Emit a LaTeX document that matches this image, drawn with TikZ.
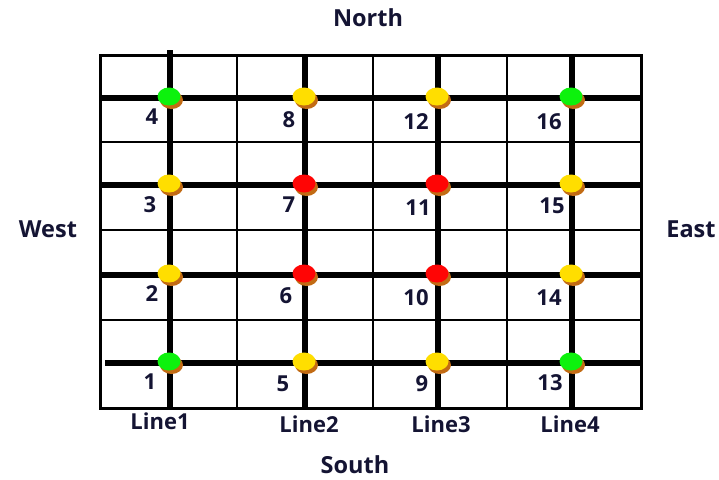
\documentclass[tikz,border=0pt]{standalone}
\usepackage{fontspec}
\setmainfont{Open Sans}
\usetikzlibrary{shapes.geometric,shadows}
\definecolor{txt}{rgb}{0.08,0.08,0.2}
\definecolor{shbrown}{rgb}{0.76,0.42,0.08}
\definecolor{dgreen}{rgb}{0.05,0.95,0.05}
\definecolor{dyellow}{rgb}{1,0.87,0}
\definecolor{dred}{rgb}{1,0.02,0.02}
\begin{document}
\begin{tikzpicture}[x=1pt,y=-1pt,
  thinline/.style={line width=1.6pt},
  thickline/.style={line width=5.5pt},
  border/.style={line width=3pt},
  lamp/.style={ellipse, fill=#1, minimum width=23pt, minimum height=18pt, inner sep=0pt,
    drop shadow={shadow xshift=2.5pt, shadow yshift=-3.5pt, fill=shbrown, opacity=1}},
  num/.style={font=\bfseries\fontsize{22}{22}\selectfont, text=txt, inner sep=0pt},
  linelab/.style={font=\bfseries\fontsize{22}{22}\selectfont, text=txt, inner sep=0pt},
  dir/.style={font=\bfseries\fontsize{23.5}{23.5}\selectfont, text=txt, inner sep=0pt}]
\useasboundingbox (0,0) rectangle (719,479);
% thin grid lines
\foreach \x in {237,373,507} \draw[thinline] (\x,55) -- (\x,408);
\foreach \y in {142,230,320} \draw[thinline] (100,\y) -- (641,\y);
% thick lines
\draw[thickline] (170,50) -- (170,408);
\foreach \x in {305,438,572} \draw[thickline] (\x,55) -- (\x,408);
\foreach \y in {98,185,275} \draw[thickline] (100,\y) -- (641,\y);
\draw[thickline] (105,363) -- (641,363);
% border
\draw[border] (100,55) rectangle (641,408);
% lamps
\node[lamp=dgreen]  (d4)  at (169,96.5) {};
\node[lamp=dyellow] (d8)  at (304,96.5) {};
\node[lamp=dyellow] (d12) at (437,96.5) {};
\node[lamp=dgreen]  (d16) at (571,96.5) {};
\node[lamp=dyellow] (d3)  at (169,183.5) {};
\node[lamp=dred]    (d7)  at (304,183.5) {};
\node[lamp=dred]    (d11) at (437,183.5) {};
\node[lamp=dyellow] (d15) at (571,183.5) {};
\node[lamp=dyellow] (d2)  at (169,273.5) {};
\node[lamp=dred]    (d6)  at (304,273.5) {};
\node[lamp=dred]    (d10) at (437,273.5) {};
\node[lamp=dyellow] (d14) at (571,273.5) {};
\node[lamp=dgreen]  (d1)  at (169,361.5) {};
\node[lamp=dyellow] (d5)  at (304,361.5) {};
\node[lamp=dyellow] (d9)  at (437,361.5) {};
\node[lamp=dgreen]  (d13) at (571,361.5) {};
% numbers
\node[num] (n4)  at (152,117) {4};
\node[num] (n8)  at (289,120) {8};
\node[num] (n12) at (416,122) {12};
\node[num] (n16) at (549,122) {16};
\node[num] (n3)  at (150,205) {3};
\node[num] (n7)  at (289,205) {7};
\node[num] (n11) at (418,208) {11};
\node[num] (n15) at (552,206) {15};
\node[num] (n2)  at (152,294) {2};
\node[num] (n6)  at (286,296) {6};
\node[num] (n10) at (416,298) {10};
\node[num] (n14) at (549,298) {14};
\node[num] (n1)  at (150,382) {1};
\node[num] (n5)  at (283,384) {5};
\node[num] (n9)  at (422,384) {9};
\node[num] (n13) at (550,383) {13};
% line labels
\node[linelab] (l1) at (160,421) {Line1};
\node[linelab] (l2) at (309,424) {Line2};
\node[linelab] (l3) at (441,424) {Line3};
\node[linelab] (l4) at (570,424) {Line4};
% directions
\node[dir] (north) at (368,18) {North};
\node[dir] (south) at (355,465) {South};
\node[dir] (west)  at (48,229) {West};
\node[dir] (east)  at (691,229) {East};
\end{tikzpicture}
\end{document}
